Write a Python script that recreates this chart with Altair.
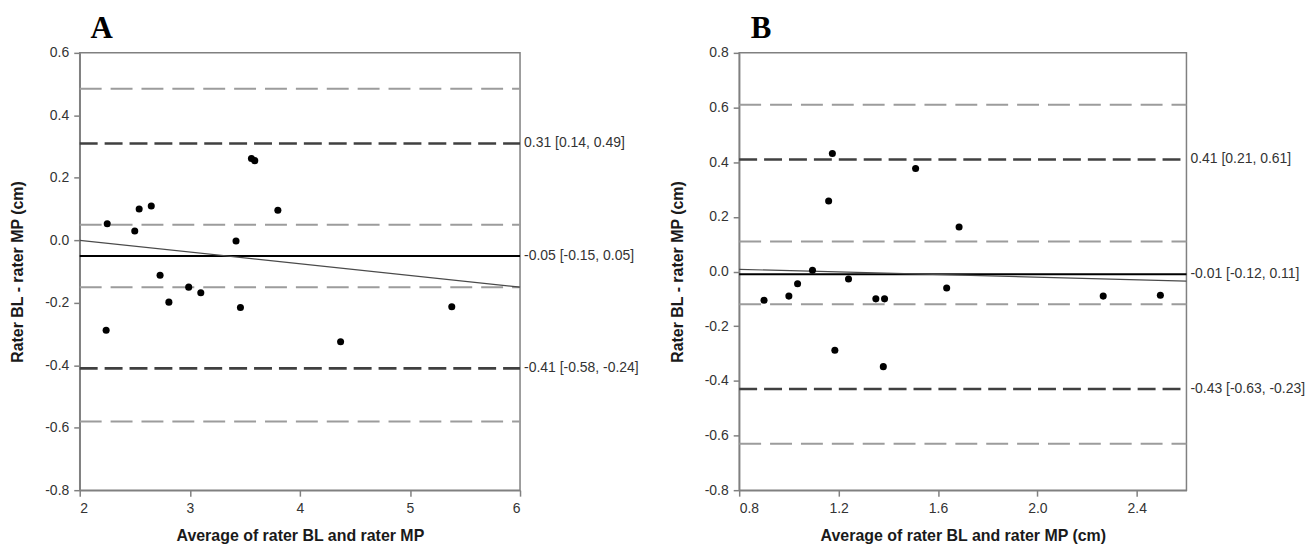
import altair as alt
import pandas as pd

# ---------------- Panel A data ----------------
a_avg = [2.24, 2.25, 2.50, 2.54, 2.65, 2.73, 2.81, 2.99, 3.10, 3.42, 3.46, 3.56, 3.59, 3.80, 4.37, 5.38]
a_diff = [-0.288, 0.053, 0.030, 0.100, 0.110, -0.112, -0.198, -0.150, -0.168, -0.002, -0.215, 0.262, 0.255, 0.096, -0.325, -0.213]
a_ci_lines = [0.485, 0.05, -0.15, -0.58]
a_loa_lines = [0.31, -0.41]
a_mean = [-0.05]
a_reg_x = [2.0, 6.0]
a_reg_y = [0.0, -0.15]
a_label_y = [0.31, -0.05, -0.41]
a_labels = ["0.31 [0.14, 0.49]", "-0.05 [-0.15, 0.05]", "-0.41 [-0.58, -0.24]"]
a_xdomain = [2, 6]
a_ydomain = [-0.8, 0.6]
a_xticks = [2, 3, 4, 5, 6]
a_yticks = [-0.8, -0.6, -0.4, -0.2, 0.0, 0.2, 0.4, 0.6]

# ---------------- Panel B data ----------------
b_avg = [0.90, 1.00, 1.035, 1.095, 1.16, 1.175, 1.185, 1.24, 1.35, 1.38, 1.385, 1.51, 1.635, 1.685, 2.265, 2.495]
b_diff = [-0.105, -0.09, -0.045, 0.005, 0.258, 0.432, -0.288, -0.027, -0.10, -0.348, -0.10, 0.377, -0.06, 0.163, -0.09, -0.087]
b_ci_lines = [0.61, 0.11, -0.12, -0.63]
b_loa_lines = [0.41, -0.43]
b_mean = [-0.01]
b_reg_x = [0.8, 2.6]
b_reg_y = [0.008, -0.035]
b_label_y = [0.41, -0.01, -0.43]
b_labels = ["0.41 [0.21, 0.61]", "-0.01 [-0.12, 0.11]", "-0.43 [-0.63, -0.23]"]
b_xdomain = [0.8, 2.6]
b_ydomain = [-0.8, 0.8]
b_xticks = [0.8, 1.2, 1.6, 2.0, 2.4]
b_yticks = [-0.8, -0.6, -0.4, -0.2, 0.0, 0.2, 0.4, 0.6, 0.8]

FONT = "Liberation Sans, Arial, sans-serif"
Y_LABEL_EXPR = "datum.value < 0 ? '-' + format(-datum.value, '.1f') : format(datum.value, '.1f')"


def panel(avg, diff, ci, loa, mean, reg_x, reg_y, label_y, labels,
          xdomain, ydomain, xticks, yticks, xfmt, xtitle, letter, width, height, anchor=False):
    xaxis = alt.Axis(values=xticks, title=xtitle, grid=False,
                     labelExpr=f"format(datum.value, '{xfmt}')",
                     titleY=38)
    yaxis = alt.Axis(values=yticks, title="Rater BL - rater MP (cm)", grid=False,
                     labelExpr=Y_LABEL_EXPR, titleX=-54)
    xs = alt.Scale(domain=xdomain, nice=False, zero=False)
    ys = alt.Scale(domain=ydomain, nice=False, zero=False)

    def X():
        return alt.X("avg:Q", scale=xs, axis=xaxis)

    def Y():
        return alt.Y("diff:Q", scale=ys, axis=yaxis)

    ci_df = pd.DataFrame({"diff": ci, "avg": xdomain[0], "avg_end": xdomain[1]})
    loa_df = pd.DataFrame({"diff": loa, "avg": xdomain[0], "avg_end": xdomain[1]})
    mean_df = pd.DataFrame({"diff": mean, "avg": xdomain[0], "avg_end": xdomain[1]})
    reg_df = pd.DataFrame({"avg": reg_x, "diff": reg_y})
    pts_df = pd.DataFrame({"avg": avg, "diff": diff})
    lab_df = pd.DataFrame({"diff": label_y, "label": labels})
    let_df = pd.DataFrame({"t": [letter]})

    ci_layer = alt.Chart(ci_df).mark_rule(color="#9c9c9c", strokeWidth=2, strokeDash=[22, 9]).encode(
        x=X(), x2="avg_end:Q", y=Y())
    loa_layer = alt.Chart(loa_df).mark_rule(color="#404040", strokeWidth=2.6, strokeDash=[18, 7]).encode(
        x=X(), x2="avg_end:Q", y=Y())
    mean_layer = alt.Chart(mean_df).mark_rule(color="#000000", strokeWidth=2).encode(
        x=X(), x2="avg_end:Q", y=Y())
    reg_layer = alt.Chart(reg_df).mark_line(color="#4a4a4a", strokeWidth=1.2).encode(x=X(), y=Y())
    pts_layer = alt.Chart(pts_df).mark_circle(size=50, color="#000000", opacity=1).encode(x=X(), y=Y())
    lab_layer = alt.Chart(lab_df).mark_text(align="left", baseline="middle", dx=4, font=FONT,
                                             fontSize=14, color="#333333").encode(
        x=alt.value(width), y=Y(), text="label:N")
    let_layer = alt.Chart(let_df).mark_text(align="center", baseline="alphabetic",
                                             font="Liberation Serif, Times New Roman, serif",
                                             fontSize=31, fontWeight="bold", color="#000000").encode(
        x=alt.value(22), y=alt.value(-15), text="t:N")

    layers = [ci_layer, loa_layer, mean_layer, reg_layer, pts_layer, lab_layer, let_layer]
    if anchor:
        # invisible layout anchor fixing the top-left extent of the whole figure
        anchor_layer = alt.Chart(let_df).mark_rule(strokeWidth=1, strokeOpacity=0, color="white").encode(
            x=alt.value(-70.5), y=alt.value(-42.5), y2=alt.value(0))
        layers.append(anchor_layer)
    return alt.layer(*layers).properties(width=width, height=height)


chart_a = panel(a_avg, a_diff, a_ci_lines, a_loa_lines, a_mean, a_reg_x, a_reg_y, a_label_y, a_labels,
                a_xdomain, a_ydomain, a_xticks, a_yticks, "d", "Average of rater BL and rater MP",
                "A", 442, 439, anchor=True)
chart_b = panel(b_avg, b_diff, b_ci_lines, b_loa_lines, b_mean, b_reg_x, b_reg_y, b_label_y, b_labels,
                b_xdomain, b_ydomain, b_xticks, b_yticks, ".1f", "Average of rater BL and rater MP (cm)",
                "B", 449, 439)

chart = alt.hconcat(chart_a, chart_b, spacing=220, bounds="flush").properties(
    padding={"left": 0, "top": 0, "right": 0, "bottom": 0}
).configure_view(
    stroke="#808080", strokeWidth=1.5
).configure_axis(
    domainColor="#808080", domainWidth=1.5,
    tickColor="#808080", tickWidth=1.5, tickSize=6,
    labelFont=FONT, labelFontSize=14, labelColor="#333333", labelPadding=5,
    titleFont=FONT, titleFontSize=16, titleFontWeight="bold", titleColor="#1a1a1a",
)

chart.save("out.html", embed_options={"renderer": "svg", "actions": False})
